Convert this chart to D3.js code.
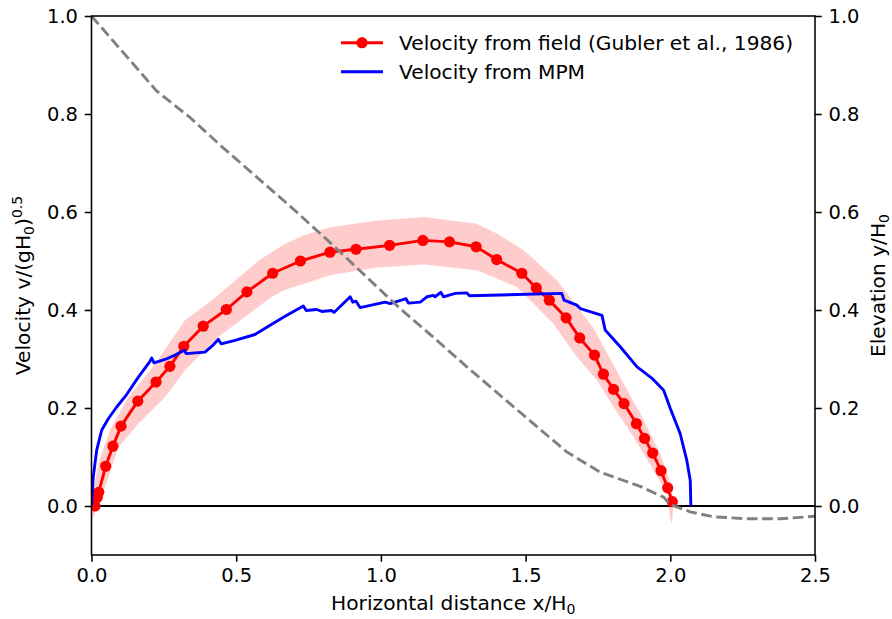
<!DOCTYPE html>
<html>
<head>
<meta charset="utf-8">
<script src="https://cdn.jsdelivr.net/npm/d3@7"></script>
<style>
  body { margin: 0; background: #fff; }
  svg { display: block; font-family: "DejaVu Sans", sans-serif; }
  .tick text { fill: #000; }
</style>
</head>
<body>
<svg id="chart" width="892" height="619"></svg>
<script>
// ─── Data ───────────────────────────────────────
const fieldX = [0.012, 0.02, 0.025, 0.049, 0.074, 0.102, 0.16, 0.223, 0.271, 0.319,
                0.386, 0.466, 0.537, 0.626, 0.722, 0.824, 0.914, 1.03, 1.145, 1.237,
                1.329, 1.40, 1.487, 1.537, 1.582, 1.64, 1.687, 1.738, 1.769, 1.804,
                1.84, 1.883, 1.911, 1.939, 1.968, 1.991, 2.007];
const fieldV = [0.0, 0.018, 0.028, 0.081, 0.122, 0.163, 0.214, 0.253, 0.285, 0.326,
                0.367, 0.401, 0.437, 0.475, 0.500, 0.518, 0.524, 0.532, 0.542, 0.539,
                0.529, 0.503, 0.475, 0.445, 0.420, 0.384, 0.343, 0.308, 0.269, 0.238,
                0.209, 0.168, 0.138, 0.108, 0.072, 0.037, 0.009];

// shaded uncertainty band around the field data
const bandUpX = [0.0, 0.024, 0.064, 0.127, 0.22, 0.323, 0.416, 0.485, 0.577, 0.669, 0.732, 0.824,
                 0.98, 1.147, 1.331, 1.40, 1.493, 1.608, 1.735, 1.827, 1.896, 1.965, 2.006, 2.01, 2.006];
const bandUpY = [0.012, 0.087, 0.155, 0.222, 0.29, 0.379, 0.42, 0.454, 0.501, 0.535, 0.552, 0.569,
                 0.582, 0.590, 0.576, 0.556, 0.522, 0.461, 0.363, 0.263, 0.189, 0.107, 0.039, -0.002, -0.036];
const bandLoX = [0.005, 0.035, 0.093, 0.162, 0.254, 0.323, 0.438, 0.531, 0.623, 0.663, 0.824, 0.98,
                 1.147, 1.331, 1.47, 1.596, 1.677, 1.746, 1.804, 1.873, 1.942, 1.988, 2.0];
const bandLoY = [-0.025, 0.018, 0.12, 0.168, 0.222, 0.277, 0.345, 0.386, 0.427, 0.44, 0.471, 0.486,
                 0.493, 0.481, 0.447, 0.372, 0.304, 0.257, 0.202, 0.141, 0.073, 0.025, -0.026];

const mpmX = [0.0, 0.003, 0.006, 0.018, 0.035, 0.058, 0.087, 0.122, 0.162, 0.202,
              0.208, 0.216, 0.254, 0.289, 0.321, 0.327, 0.392, 0.421, 0.438, 0.448,
              0.496, 0.565, 0.617, 0.669, 0.732, 0.742, 0.778, 0.796, 0.83, 0.838,
              0.894, 0.903, 0.914, 0.928, 1.015, 1.032, 1.087, 1.095, 1.136, 1.159,
              1.181, 1.187, 1.207, 1.216, 1.257, 1.297, 1.306, 1.378, 1.625, 1.633,
              1.677, 1.689, 1.764, 1.775, 1.827, 1.885, 1.936, 1.977, 2.0, 2.034,
              2.057, 2.069, 2.071];
const mpmV = [0.0, 0.03, 0.059, 0.114, 0.1545, 0.178, 0.202, 0.228, 0.263, 0.295,
              0.302, 0.292, 0.299, 0.308, 0.318, 0.311, 0.314, 0.329, 0.34, 0.331,
              0.338, 0.35, 0.369, 0.387, 0.408, 0.399, 0.401, 0.397, 0.399, 0.395,
              0.427, 0.416, 0.418, 0.405, 0.416, 0.413, 0.423, 0.414, 0.416, 0.427,
              0.43, 0.427, 0.436, 0.427, 0.434, 0.435, 0.429, 0.43, 0.434, 0.42,
              0.41, 0.403, 0.389, 0.359, 0.325, 0.284, 0.261, 0.236, 0.199, 0.148,
              0.093, 0.052, 0.0];

// slope profile (right axis)
const slopeX = [0, 0.225, 0.34, 0.455, 0.686, 0.824, 1.066, 1.18, 1.297, 1.412, 1.527,
                1.643, 1.758, 1.896, 1.977, 2.0, 2.069, 2.149, 2.265, 2.38, 2.5];
const slopeY = [1.0, 0.847, 0.793, 0.731, 0.612, 0.538, 0.403, 0.345, 0.284, 0.226, 0.168,
                0.110, 0.069, 0.040, 0.018, 0.003, -0.012, -0.022, -0.026, -0.026, -0.021];

const xTicks = [0, 0.5, 1.0, 1.5, 2.0, 2.5];
const yTicks = [0, 0.2, 0.4, 0.6, 0.8, 1.0];

// ─── Layout ─────────────────────────────────────
const L = 91.5, R = 815, T = 16, B = 555;
const tickFont = 19.5, labelFont = 20.2, subFont = 14;
const svg = d3.select('#chart');
const x  = d3.scaleLinear().domain([0, 2.5]).range([L, R]);
const yL = d3.scaleLinear().domain([-0.1, 1.0]).range([B, T]);
const yR = d3.scaleLinear().domain([-0.1, 1.0]).range([B, T]);
const fmt = d3.format('.1f');

svg.append('clipPath').attr('id', 'clip')
  .append('rect').attr('x', L).attr('y', T).attr('width', R - L).attr('height', B - T);
const plot = svg.append('g').attr('clip-path', 'url(#clip)');

// ─── Band ───────────────────────────────────────
const bandPts = bandUpX.map((d, i) => [d, bandUpY[i]])
  .concat(bandLoX.map((d, i) => [d, bandLoY[i]]).reverse());
plot.append('path')
  .attr('d', d3.line().x(d => x(d[0])).y(d => yL(d[1]))(bandPts) + 'Z')
  .attr('fill', '#ff0000').attr('fill-opacity', 0.2).attr('stroke', 'none');

// zero line
plot.append('line')
  .attr('x1', L).attr('x2', R).attr('y1', yL(0)).attr('y2', yL(0))
  .attr('stroke', '#000').attr('stroke-width', 1.9);

// ─── Field velocity ─────────────────────────────
const field = fieldX.map((d, i) => [d, fieldV[i]]);
plot.append('path')
  .attr('d', d3.line().x(d => x(d[0])).y(d => yL(d[1]))(field))
  .attr('fill', 'none').attr('stroke', '#ff0000').attr('stroke-width', 2.9)
  .attr('stroke-linejoin', 'round');
plot.selectAll('.dot').data(field).enter().append('circle')
  .attr('cx', d => x(d[0])).attr('cy', d => yL(d[1])).attr('r', 5.6)
  .attr('fill', '#ff0000');

// ─── MPM velocity ───────────────────────────────
const mpm = mpmX.map((d, i) => [d, mpmV[i]]);
plot.append('path')
  .attr('d', d3.line().x(d => x(d[0])).y(d => yL(d[1]))(mpm))
  .attr('fill', 'none').attr('stroke', '#0000ff').attr('stroke-width', 2.9)
  .attr('stroke-linejoin', 'round');

// ─── Slope (twin axis) ──────────────────────────
const slope = slopeX.map((d, i) => [d, slopeY[i]]);
plot.append('path')
  .attr('d', d3.line().x(d => x(d[0])).y(d => yR(d[1]))(slope))
  .attr('fill', 'none').attr('stroke', '#808080').attr('stroke-width', 2.9)
  .attr('stroke-dasharray', '10.7,4.6');

// ─── Axes ───────────────────────────────────────
function styleAxis(g) {
  g.selectAll('.domain').remove();
  g.selectAll('.tick line').attr('stroke', '#000').attr('stroke-width', 1.55);
}
svg.append('g').attr('transform', `translate(0,${B})`)
  .call(d3.axisBottom(x).tickValues(xTicks).tickFormat(fmt).tickSize(6.75).tickPadding(6.5))
  .call(styleAxis);
svg.append('g').attr('transform', `translate(${L},0)`)
  .call(d3.axisLeft(yL).tickValues(yTicks).tickFormat(fmt).tickSize(6.75).tickPadding(6.75))
  .call(styleAxis);
svg.append('g').attr('transform', `translate(${R},0)`)
  .call(d3.axisRight(yR).tickValues(yTicks).tickFormat(fmt).tickSize(6.75).tickPadding(6.75))
  .call(styleAxis);
svg.selectAll('.tick text').attr('font-family', '"DejaVu Sans", sans-serif').attr('font-size', tickFont);

svg.append('rect')
  .attr('x', L).attr('y', T).attr('width', R - L).attr('height', B - T)
  .attr('fill', 'none').attr('stroke', '#000').attr('stroke-width', 1.55);

// ─── Axis labels ────────────────────────────────
const xl = svg.append('text').attr('x', (L + R) / 2).attr('y', 610)
  .attr('text-anchor', 'middle').attr('font-size', labelFont);
xl.append('tspan').text('Horizontal distance x/H');
xl.append('tspan').attr('font-size', subFont).attr('dy', 4).text('0');

const yl = svg.append('text')
  .attr('transform', `translate(30,${(T + B) / 2}) rotate(-90)`)
  .attr('text-anchor', 'middle').attr('font-size', labelFont);
yl.append('tspan').text('Velocity v/(gH');
yl.append('tspan').attr('font-size', subFont).attr('dy', 4).text('0');
yl.append('tspan').attr('dy', -4).text(')');
yl.append('tspan').attr('font-size', subFont).attr('dy', -8).text('0.5');

const yr = svg.append('text')
  .attr('transform', `translate(885,${(T + B) / 2}) rotate(-90)`)
  .attr('text-anchor', 'middle').attr('font-size', labelFont);
yr.append('tspan').text('Elevation y/H');
yr.append('tspan').attr('font-size', subFont).attr('dy', 4).text('0');

// ─── Legend ─────────────────────────────────────
const legend = svg.append('g');
[{ label: 'Velocity from field (Gubler et al., 1986)', color: '#ff0000', marker: true, y: 42.7 },
 { label: 'Velocity from MPM', color: '#0000ff', marker: false, y: 71.7 }].forEach(d => {
  legend.append('line').attr('x1', 341).attr('x2', 383).attr('y1', d.y).attr('y2', d.y)
    .attr('stroke', d.color).attr('stroke-width', 2.9);
  if (d.marker) legend.append('circle').attr('cx', 362).attr('cy', d.y).attr('r', 5.6).attr('fill', d.color);
  legend.append('text').attr('x', 399).attr('y', d.y).attr('dy', '0.35em')
    .attr('font-size', labelFont).text(d.label);
});
</script>
</body>
</html>
